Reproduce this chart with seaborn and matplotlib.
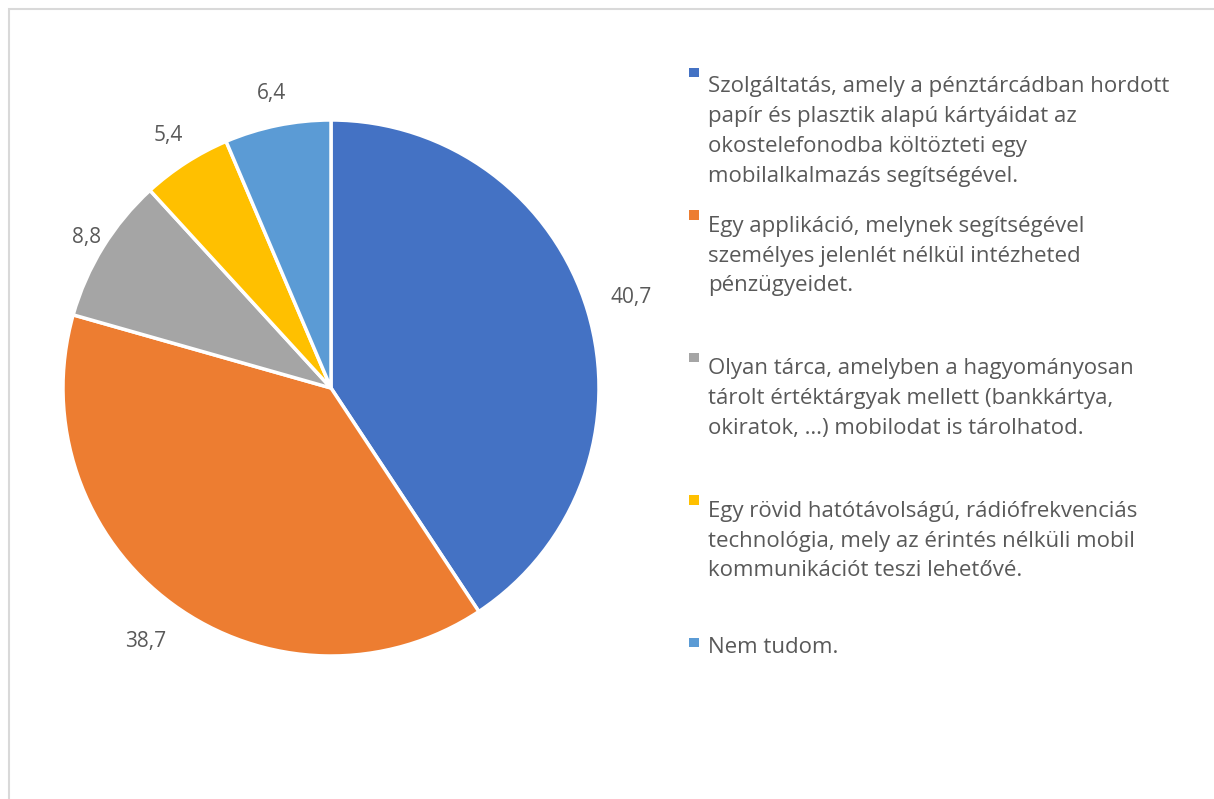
import matplotlib
matplotlib.use("Agg")
import matplotlib.pyplot as plt
from matplotlib.patches import Rectangle
import numpy as np
import seaborn as sns

# ─── DATA ─────────────────────────────────────────────────────────────────────
answers = [
    "Szolgáltatás, amely a pénztárcádban hordott\npapír és plasztik alapú kártyáidat az\nokostelefonodba költözteti egy\nmobilalkalmazás segítségével.",
    "Egy applikáció, melynek segítségével\nszemélyes jelenlét nélkül intézheted\npénzügyeidet.",
    "Olyan tárca, amelyben a hagyományosan\ntárolt értéktárgyak mellett (bankkártya,\nokiratok, …) mobilodat is tárolhatod.",
    "Egy rövid hatótávolságú, rádiófrekvenciás\ntechnológia, mely az érintés nélküli mobil\nkommunikációt teszi lehetővé.",
    "Nem tudom.",
]
shares = [40.7, 38.7, 8.8, 5.4, 6.4]
colors = ["#4472C4", "#ED7D31", "#A5A5A5", "#FFC000", "#5B9BD5"]

sns.set_theme(style="white")
plt.rcParams["font.family"] = ["Open Sans", "DejaVu Sans"]
TXT = "#595959"

W, H = 1214, 799
fig = plt.figure(figsize=(W / 100, H / 100), dpi=100)

# outer frame (only top/left visible in the crop)
fig.add_artist(Rectangle((9 / W, -0.05), 1.1, 1 - 9 / H + 0.05, transform=fig.transFigure,
                         fill=False, edgecolor="#D9D9D9", lw=1.5))

# pie axes: centre (331, 388) px, radius 268 px, limits +-1.25
cx, cy, r = 331, 388, 268
side = 2 * 1.25 * r
ax = fig.add_axes([(cx - side / 2) / W, (H - cy - side / 2) / H, side / W, side / H])
wedges, _, autotexts = ax.pie(
    shares, colors=colors, startangle=90, counterclock=False,
    autopct=lambda p: f"{p:.1f}".replace(".", ","), pctdistance=1.14,
    wedgeprops=dict(edgecolor="white", linewidth=2.5),
    textprops=dict(color=TXT, fontsize=15))
# nudge value labels outward like Excel's best-fit placement
label_dist = [1.17, 1.17, 1.07, 1.12, 1.12]
for w, t, d in zip(wedges, autotexts, label_dist):
    ang = np.deg2rad((w.theta1 + w.theta2) / 2)
    t.set_position((d * np.cos(ang), d * np.sin(ang)))
ax.set_xlim(-1.25, 1.25)
ax.set_ylim(-1.25, 1.25)
ax.set_aspect("equal")
ax.axis("off")

# legend, drawn as equally spaced slots like the original
LINE = 33          # px between text lines
first_base = [83, 225.5, 368, 510.5, 653]
for lab, col, base in zip(answers, colors, first_base):
    fig.add_artist(Rectangle((689 / W, 1 - (base - 6) / H), 9.5 / W, 9.5 / H,
                             transform=fig.transFigure, color=col, lw=0))
    last_base = base + LINE * lab.count("\n")
    fig.text(708 / W, 1 - last_base / H, lab, ha="left", va="baseline", color=TXT,
             fontsize=16, linespacing=1.556)

fig.savefig("out.png", dpi=100, facecolor="white")
